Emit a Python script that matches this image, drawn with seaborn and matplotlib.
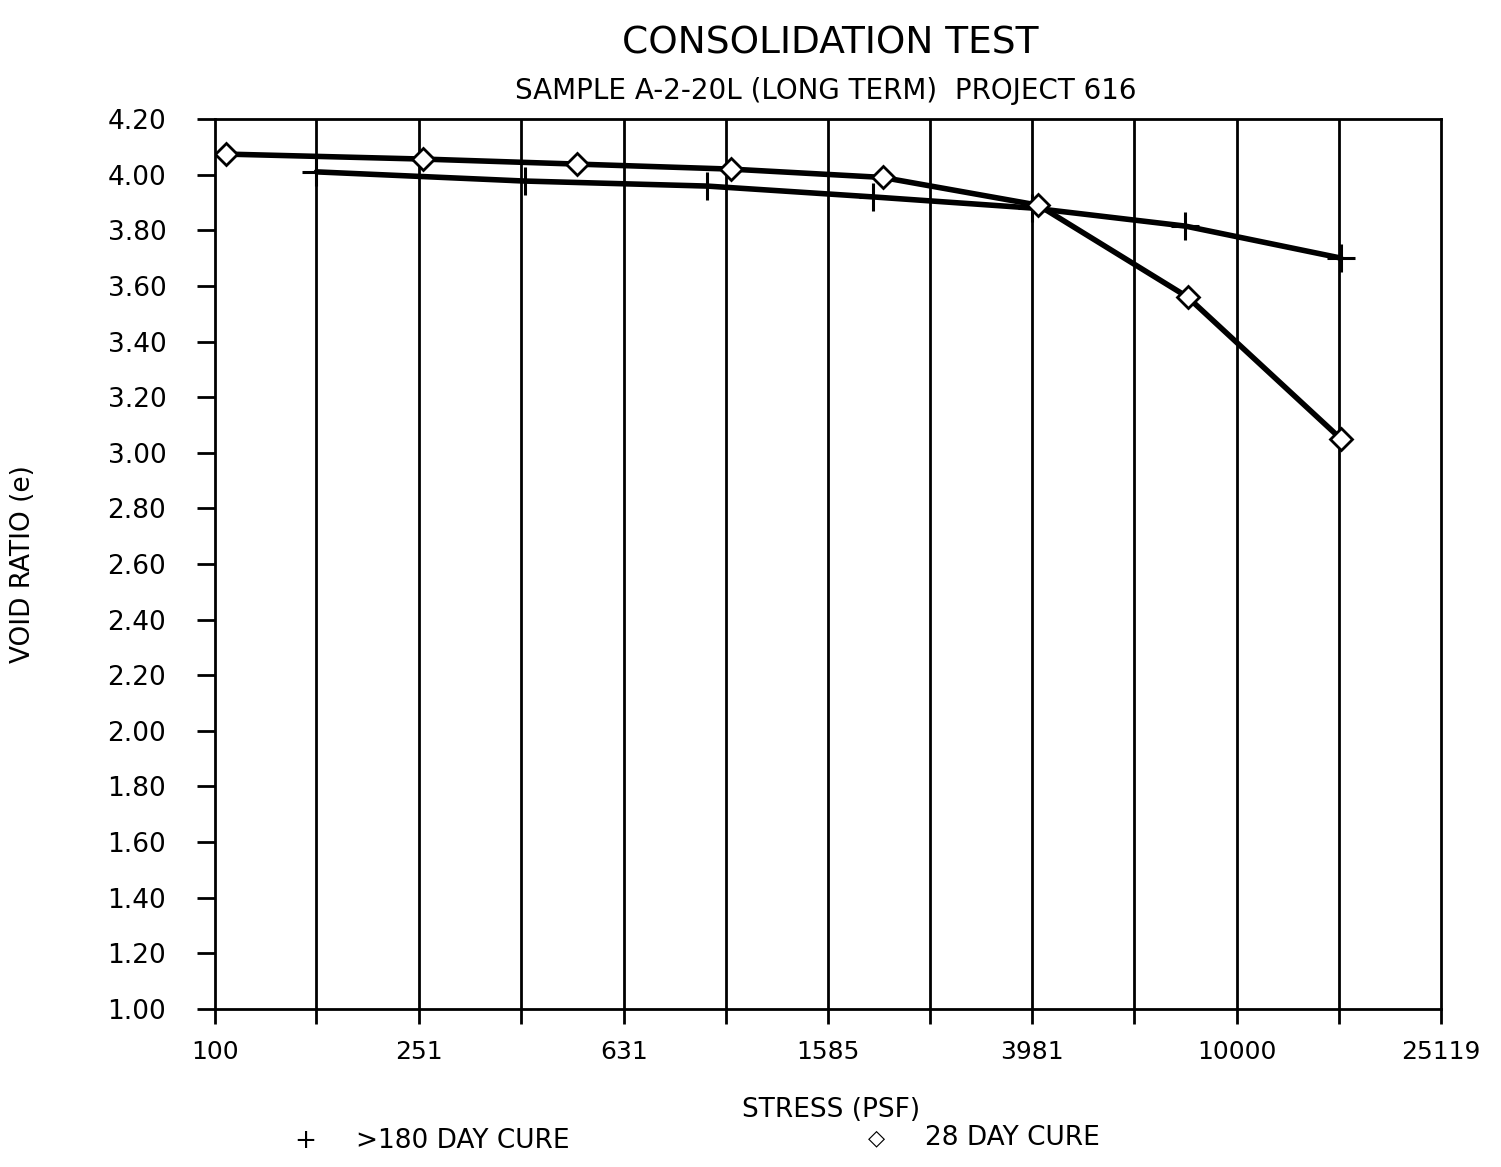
import numpy as np
import pandas as pd
import matplotlib
matplotlib.use("Agg")
import matplotlib.pyplot as plt
import seaborn as sns
from matplotlib.ticker import FixedLocator, FixedFormatter, NullLocator

# ---- data ----
stress_180 = [158, 404, 918, 1941, 3980, 7940, 16000]
void_180 = [4.01, 3.977, 3.959, 3.92, 3.88, 3.815, 3.70]
stress_28 = [105, 256, 511, 1023, 2028, 4093, 8017, 16000]
void_28 = [4.074, 4.056, 4.038, 4.02, 3.99, 3.89, 3.56, 3.05]

grid_stress = [100, 158, 251, 398, 631, 1000, 1585, 2512, 3981, 6310, 10000, 15849, 25119]
x_tick_labels = ["100", "", "251", "", "631", "", "1585", "", "3981", "", "10000", "", "25119"]
y_ticks = [1.00, 1.20, 1.40, 1.60, 1.80, 2.00, 2.20, 2.40, 2.60, 2.80, 3.00,
           3.20, 3.40, 3.60, 3.80, 4.00, 4.20]
y_tick_labels = ["1.00", "1.20", "1.40", "1.60", "1.80", "2.00", "2.20", "2.40", "2.60",
                 "2.80", "3.00", "3.20", "3.40", "3.60", "3.80", "4.00", "4.20"]

df180 = pd.DataFrame({"stress": stress_180, "void": void_180})
df28 = pd.DataFrame({"stress": stress_28, "void": void_28})

sns.set_style("ticks")
plt.rcParams['font.family'] = ['DejaVu Sans']
plt.rcParams['text.color'] = 'black'
plt.rcParams['axes.labelcolor'] = 'black'

fig = plt.figure(figsize=(15.01, 11.67), dpi=100)
ax = fig.add_axes([0.1432, 0.1354, 0.8168, 0.7626])

ax.set_xscale("log")
ax.set_xlim(100, 25119)
ax.set_ylim(1.0, 4.2)

# vertical grid lines
for g in grid_stress[1:-1]:
    ax.axvline(g, color="black", lw=2, zorder=1)

sns.lineplot(data=df180, x="stress", y="void", ax=ax, color="black", lw=4,
             marker="+", markersize=20, markeredgewidth=2.2, markeredgecolor="black",
             zorder=3)
sns.lineplot(data=df28, x="stress", y="void", ax=ax, color="black", lw=4,
             marker="D", markersize=11, markeredgewidth=2, markeredgecolor="black",
             markerfacecolor="white", zorder=4)

ax.xaxis.set_major_locator(FixedLocator(grid_stress))
ax.xaxis.set_major_formatter(FixedFormatter(x_tick_labels))
ax.xaxis.set_minor_locator(NullLocator())
ax.set_yticks(y_ticks)
ax.set_yticklabels(y_tick_labels)

ax.tick_params(axis="x", direction="out", length=11, width=2, pad=11, labelsize=18, colors="black")
ax.tick_params(axis="y", direction="out", length=13, width=2, pad=22, labelsize=19, colors="black")

for s in ax.spines.values():
    s.set_linewidth(2)
    s.set_color("black")

ax.set_xlabel("")
ax.set_ylabel("VOID RATIO (e)", fontsize=19, color="black")
ax.yaxis.set_label_coords(-0.146, 0.5)

fig.text(0.553, 0.978, "CONSOLIDATION TEST", ha="center", va="top", fontsize=27)
fig.text(0.550, 0.934, "SAMPLE A-2-20L (LONG TERM)  PROJECT 616", ha="center", va="top", fontsize=20)
fig.text(0.554, 0.049, "STRESS (PSF)", ha="center", va="center", fontsize=19)
fig.text(0.196, 0.022, "+", ha="left", va="center", fontsize=19)
fig.text(0.237, 0.022, ">180 DAY CURE", ha="left", va="center", fontsize=19)
fig.text(0.578, 0.025, "\u25c7", ha="left", va="center", fontsize=16)
fig.text(0.616, 0.025, "28 DAY CURE", ha="left", va="center", fontsize=19)

fig.savefig("out.png", dpi=100, facecolor="white")
